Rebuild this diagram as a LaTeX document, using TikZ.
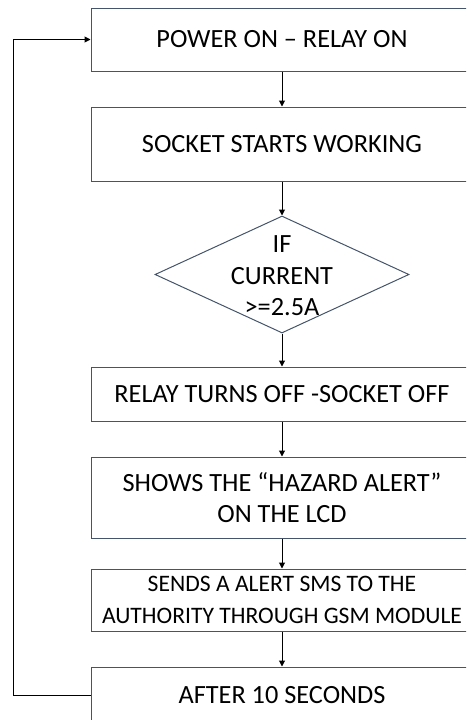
\documentclass[tikz,border=0pt]{standalone}
\usepackage{fontspec}
\setmainfont{Carlito}
\usetikzlibrary{arrows.meta,
                shapes.geometric}
\definecolor{boxline}{RGB}{68,84,106}

\begin{document}
\begin{tikzpicture}[x=1pt,y=-1pt,
  stage/.style={draw=boxline,line width=1pt,minimum width=382pt,inner sep=0pt,
                align=center,font=\fontsize{26.3}{31.5}\selectfont},
  decision/.style={draw=boxline,line width=1pt,diamond,minimum width=254pt,
                   minimum height=117pt,inner sep=0pt},
  flow/.style={-{Triangle[length=6pt,width=6pt]},line width=1pt}]
 \clip (0,0) rectangle (466,720);
 \node[stage,minimum height=63pt] (poweron) at (282,39.5) {POWER ON – RELAY ON};
 \node[stage,minimum height=74pt] (socket) at (282,144) {SOCKET STARTS WORKING};
 \node[decision] (current) at (282,274.5) {};
 \node[align=center,font=\fontsize{26.3}{31.5}\selectfont] (currenttext) at (282,276) {IF\\CURRENT\\>=2.5A};
 \node[stage,minimum height=54pt] (relayoff) at (282,394) {RELAY TURNS OFF -SOCKET OFF};
 \node[stage,minimum height=81pt] (hazard) at (282,497.5) {SHOWS THE “HAZARD ALERT”\\ON THE LCD};
 \node[stage,minimum height=62pt,font=\fontsize{23.6}{31.7}\selectfont] (sms) at (282,600)
   {SENDS A ALERT SMS TO THE\\AUTHORITY THROUGH GSM MODULE};
 \node[stage,minimum height=56pt] (wait) at (282,695) {AFTER 10 SECONDS};
 \draw[flow] (poweron) -- (socket);
 \draw[flow] (socket) -- (current);
 \draw[flow] (current) -- (relayoff);
 \draw[flow] (relayoff) -- (hazard);
 \draw[flow] (hazard) -- (sms);
 \draw[flow] (sms) -- (wait);
 \draw[flow] (wait.west) -- ++(-77,0) |- (poweron.west);
\end{tikzpicture}
\end{document}
